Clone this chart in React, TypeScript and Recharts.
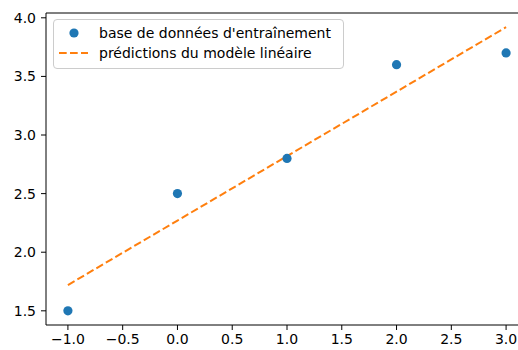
import React from "react";
import {
  ComposedChart,
  Scatter,
  Line,
  XAxis,
  YAxis,
  ReferenceLine,
} from "recharts";

// training points and the fitted line
const xValues = [-1, 0, 1, 2, 3];
const trainValues = [1.5, 2.5, 2.8, 3.6, 3.7];
const predValues = [1.72, 2.27, 2.82, 3.37, 3.92];

const xTicks = [-1, -0.5, 0, 0.5, 1, 1.5, 2, 2.5, 3];
const yTicks = [1.5, 2, 2.5, 3, 3.5, 4];

const trainLabel = "base de données d'entraînement";
const predLabel = "prédictions du modèle linéaire";

const BLUE = "#1f77b4";
const ORANGE = "#ff7f0e";
const FONT = "'DejaVu Sans', sans-serif";

const X_DOMAIN: [number, number] = [-1.2, 3.2];
const Y_DOMAIN: [number, number] = [1.379, 4.041];

const data = xValues.map((x, i) => ({
  x,
  train: trainValues[i],
  pred: predValues[i],
}));

const fmt = (v: number) => v.toFixed(1).replace("-", "\u2212");

const tickStyle = { fill: "#000", fontSize: 14, fontFamily: FONT };

export default function App() {
  return (
    <div
      style={{
        position: "fixed",
        left: 0,
        top: 0,
        width: 518,
        height: 350,
        overflow: "hidden",
        background: "#fff",
      }}
    >
      <ComposedChart
        width={540}
        height={350}
        data={data}
        margin={{ top: 13, right: 12, bottom: 0, left: 0 }}
      >
        <XAxis
          dataKey="x"
          type="number"
          domain={X_DOMAIN}
          ticks={xTicks}
          tickFormatter={fmt}
          allowDataOverflow
          height={25}
          tickSize={5}
          tickMargin={4}
          stroke="#000"
          tick={tickStyle}
        />
        <YAxis
          type="number"
          domain={Y_DOMAIN}
          ticks={yTicks}
          tickFormatter={fmt}
          allowDataOverflow
          width={46}
          tickSize={5}
          tickMargin={5}
          stroke="#000"
          tick={tickStyle}
        />
        <ReferenceLine y={Y_DOMAIN[1]} stroke="#000" ifOverflow="visible" />
        <Line
          dataKey="pred"
          stroke={ORANGE}
          strokeWidth={2}
          strokeDasharray="7.7 3.3"
          dot={false}
          activeDot={false}
          isAnimationActive={false}
        />
        <Scatter
          dataKey="train"
          fill={BLUE}
          isAnimationActive={false}
          shape={(p: any) => <circle cx={p.cx} cy={p.cy} r={4.6} fill={BLUE} />}
        />
      </ComposedChart>

      {/* legend box, matplotlib style */}
      <div
        style={{
          position: "absolute",
          left: 53,
          top: 19,
          width: 289,
          height: 48,
          border: "1px solid #cccccc",
          borderRadius: 4,
          background: "rgba(255,255,255,0.8)",
          fontFamily: FONT,
          fontSize: 14,
          color: "#000",
        }}
      >
        <svg width={40} height={48} style={{ position: "absolute", left: 0, top: 0 }}>
          <circle cx={20} cy={13} r={4.6} fill={BLUE} />
          <line x1={5} x2={34} y1={33} y2={33} stroke={ORANGE} strokeWidth={2} strokeDasharray="7.7 3.3" />
        </svg>
        <div style={{ position: "absolute", left: 45, top: 4, whiteSpace: "nowrap", lineHeight: "18px" }}>
          {trainLabel}
        </div>
        <div style={{ position: "absolute", left: 45, top: 24, whiteSpace: "nowrap", lineHeight: "18px" }}>
          {predLabel}
        </div>
      </div>
    </div>
  );
}
